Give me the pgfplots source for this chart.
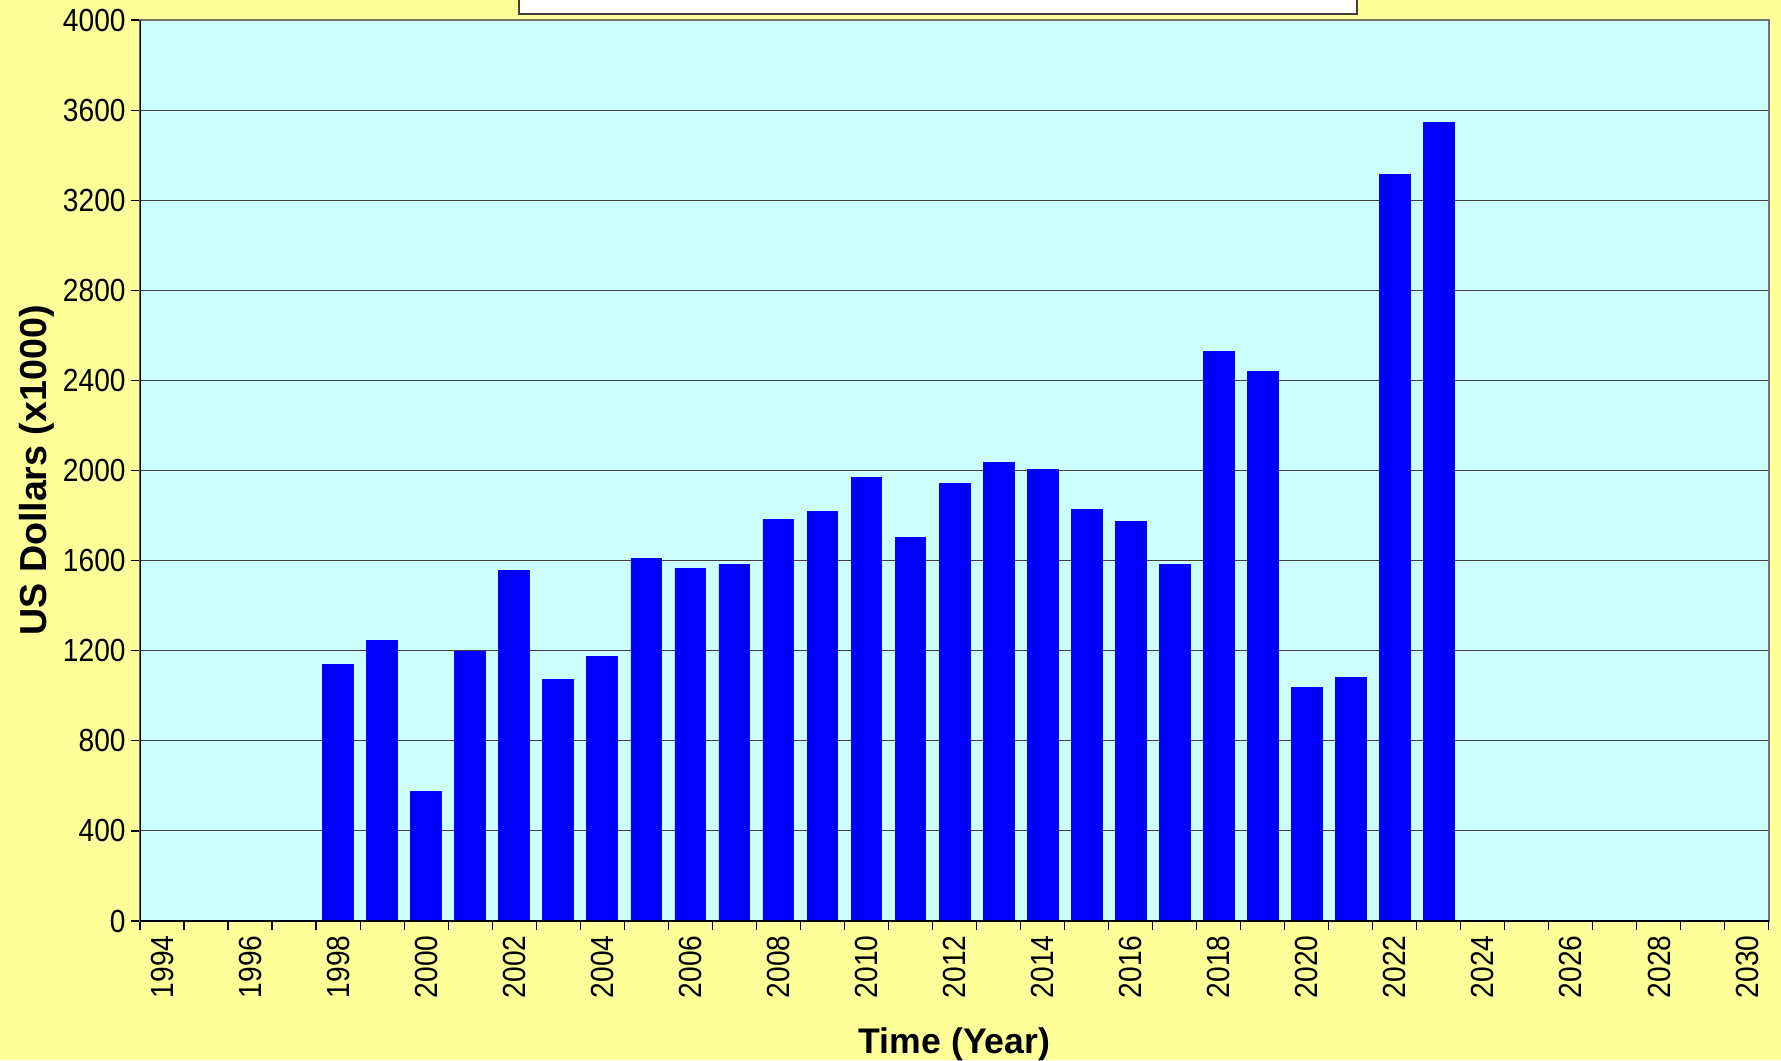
\documentclass[border=0pt]{standalone}
\usepackage{fontspec}
\setmainfont{Liberation Sans}
\newfontfamily\tickfont[FakeStretch=0.88]{Liberation Sans}
\usepackage{pgfplots}
\pgfplotsset{compat=1.18}
\definecolor{bgyellow}{HTML}{FFFF99}
\definecolor{plotcyan}{HTML}{CCFFFF}
\definecolor{barblue}{HTML}{0000FF}
\pgfkeys{/pgf/number format/.cd,1000 sep={},assume math mode=true}
\begin{document}
\begin{tikzpicture}
\fill[bgyellow] (-70pt,-69.5pt) rectangle (820.5pt,460.5pt);
\path[use as bounding box] (-70pt,-69.5pt) rectangle (820.5pt,460.5pt);
\begin{scope}
\clip (-70pt,-69.5pt) rectangle (820.5pt,460.5pt);
\draw[fill=white, draw=black!75, line width=0.6pt] (189.5pt,453.5pt) rectangle (608.5pt,480pt);
\end{scope}
\begin{axis}[
  at={(0pt,0pt)}, anchor=south west,
  scale only axis, width=814.5pt, height=450.5pt,
  xmin=1993.5, xmax=2030.5, ymin=0, ymax=4000,
  ytick={0,400,...,4000},
  xtick={1994,1996,...,2030},
  minor xtick={1993.5,1994.5,...,2030.5},
  major x tick style={draw=none},
  scaled ticks=false,
  tick align=outside,
  xtick pos=bottom, ytick pos=left,
  major tick length=4.5pt, minor tick length=4.5pt,
  tick style={black, line width=0.6pt},
  ymajorgrids,
  major grid style={draw=black!75, line width=0.5pt},
  axis background/.style={fill=plotcyan},
  axis line style={draw=black!55, line width=1pt},
  tick label style={font=\tickfont\fontsize{16}{18}\selectfont, black},
  yticklabel style={inner sep=2.5pt},
  xticklabel style={rotate=90, anchor=east, inner sep=2.5pt},
  xlabel={Time (Year)},
  ylabel={US Dollars (x1000)},
  xlabel style={font=\bfseries\fontsize{17.8}{20}\selectfont, at={(axis description cs:0.5,-0.1476)}, anchor=base},
  ylabel style={font=\bfseries\fontsize{18.8}{20}\selectfont, at={(axis description cs:-0.0575,0.5)}, anchor=base},
  ybar, bar width=0.7, bar shift=0pt,
]
\addplot[fill=barblue, draw=barblue] coordinates {
(1998,1140) (1999,1245) (2000,577) (2001,1199) (2002,1555) (2003,1073)
(2004,1176) (2005,1611) (2006,1566) (2007,1581) (2008,1783) (2009,1818)
(2010,1970) (2011,1702) (2012,1944) (2013,2035) (2014,2005) (2015,1828)
(2016,1773) (2017,1581) (2018,2530) (2019,2439) (2020,1035) (2021,1081)
(2022,3313) (2023,3545)
};
\draw[black, line width=0.7pt] (rel axis cs:0,1) -- (rel axis cs:0,0) -- (rel axis cs:1,0);
\end{axis}
\end{tikzpicture}
\end{document}
